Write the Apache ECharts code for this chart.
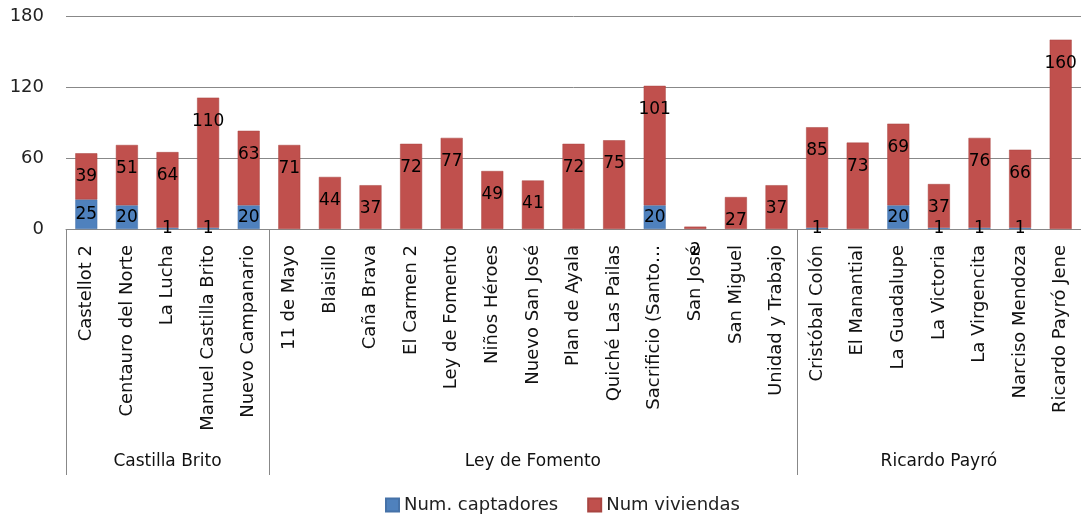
<!DOCTYPE html>
<html>
<head>
<meta charset="utf-8">
<script src="https://cdn.jsdelivr.net/npm/echarts@6/dist/echarts.min.js"></script>
<style>
html,body{margin:0;padding:0;background:#fff;}
#chart{width:1081px;height:516px;}
</style>
</head>
<body>
<div id="chart"></div>
<script>
// ---- data ----
const categories = [
  'Castellot 2','Centauro del Norte','La Lucha','Manuel Castilla Brito','Nuevo Campanario',
  '11 de Mayo','Blaisillo','Caña Brava','El Carmen 2','Ley de Fomento','Niños Héroes','Nuevo San José',
  'Plan de Ayala','Quiché Las Pailas','Sacrificio (Santo…','San José','San Miguel','Unidad y Trabajo',
  'Cristóbal Colón','El Manantial','La Guadalupe','La Victoria','La Virgencita','Narciso Mendoza','Ricardo Payró Jene'
];
const groupNames = ['Castilla Brito','Ley de Fomento','Ricardo Payró'];
const groupSizes = [5, 13, 7];
const captadores = [25,20,1,1,20, null,null,null,null,null,null,null,null,null,20,null,null,null, 1,null,20,1,1,1,null];
const viviendas  = [39,51,64,110,63, 71,44,37,72,77,49,41,72,75,101,2,27,37, 85,73,69,37,76,66,160];
const yTicks = [0, 60, 120, 180];

// ---- derived helpers ----
const groupStarts = [];
const groupCenters = {};
let acc = 0;
groupSizes.forEach((n, g) => {
  groupStarts.push(acc);
  groupCenters[acc + (n - 1) / 2] = groupNames[g];
  acc += n;
});
const groupAxisData = categories.map((c, i) => groupCenters[i] || '');

const FONT = 'DejaVu Sans';
const chart = echarts.init(document.getElementById('chart'), null, {renderer: 'canvas'});
chart.setOption({
  animation: false,
  backgroundColor: '#fff',
  grid: {left: 66, right: -10, top: 16, bottom: 287, containLabel: false},
  legend: {
    left: 385, top: 496, itemWidth: 13, itemHeight: 13, itemGap: 29,
    icon: 'rect', padding: 0,
    textStyle: {fontFamily: FONT, fontSize: 18, color: '#222'},
    data: ['Num. captadores', 'Num viviendas']
  },
  xAxis: [{
    type: 'category',
    data: categories,
    boundaryGap: true,
    axisLine: {show: true, lineStyle: {color: '#888', width: 1}},
    axisTick: {
      show: true, length: 246, inside: false,
      interval: (idx) => groupStarts.includes(idx),
      lineStyle: {color: '#888', width: 1}
    },
    axisLabel: {
      interval: 0, rotate: 90, margin: 16,
      fontFamily: FONT, fontSize: 18, color: '#111'
    }
  }, {
    type: 'category',
    data: groupAxisData,
    position: 'bottom',
    boundaryGap: true,
    axisLine: {show: false},
    axisTick: {show: false},
    axisLabel: {interval: 0, margin: 224, fontFamily: FONT, fontSize: 17, color: '#111'}
  }],
  yAxis: {
    type: 'value', min: yTicks[0], max: yTicks[yTicks.length - 1], interval: 60,
    axisLine: {show: false}, axisTick: {show: false},
    splitLine: {show: true, lineStyle: {color: '#888', width: 1}},
    axisLabel: {margin: 22, fontFamily: FONT, fontSize: 18, color: '#222'}
  },
  series: [{
    name: 'Num. captadores', type: 'bar', stack: 'total', barWidth: 22,
    data: captadores,
    itemStyle: {color: '#4F81BD', borderColor: '#4672A8', borderWidth: 0.5},
    label: {
      show: true, position: 'inside', fontFamily: FONT, fontSize: 17, color: '#000',
      formatter: (p) => (p.value == null ? '' : p.value)
    }
  }, {
    name: 'Num viviendas', type: 'bar', stack: 'total', barWidth: 22,
    data: viviendas,
    itemStyle: {color: '#C0504D', borderColor: '#A84541', borderWidth: 0.5},
    label: {
      show: true, position: 'insideTop', distance: 15,
      fontFamily: FONT, fontSize: 17, color: '#000'
    }
  }]
});
</script>
</body>
</html>
